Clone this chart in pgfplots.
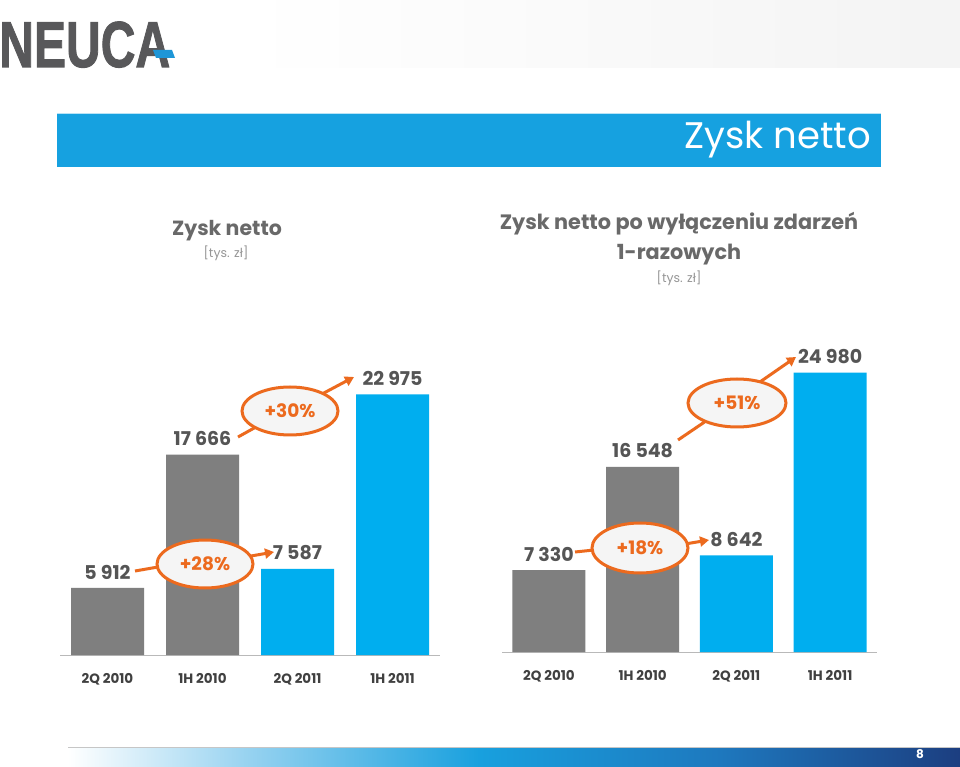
\documentclass[border=0pt]{standalone}
\usepackage{pgfplots}
\pgfplotsset{compat=1.18}
\usepackage{fontspec}
\setmainfont{Poppins}
\newfontfamily\logofont{Liberation Sans}[BoldFeatures={FakeBold=1.6}]
\usetikzlibrary{arrows.meta}
\definecolor{barGrey}{RGB}{127,127,127}
\definecolor{barBlue}{RGB}{0,174,239}
\definecolor{txtDark}{RGB}{85,85,85}
\definecolor{catDark}{RGB}{64,64,64}
\definecolor{headGrey}{RGB}{105,105,105}
\definecolor{unitGrey}{RGB}{150,150,150}
\definecolor{orangeA}{RGB}{236,106,30}
\definecolor{bannerBlue}{RGB}{22,161,224}
\definecolor{logoGrey}{RGB}{88,88,90}
\definecolor{logoBlue}{RGB}{30,150,215}
\definecolor{navy}{RGB}{28,62,128}
\definecolor{footBlue}{RGB}{24,160,222}
\definecolor{footLight}{RGB}{150,210,240}
\definecolor{footMid}{RGB}{30,120,190}
\definecolor{ellFill}{RGB}{245,245,245}
\newcommand{\fs}[1]{\fontsize{#1}{#1}\selectfont}

\pgfplotsset{barchart/.style={
  scale only axis, ybar, bar width=73pt,
  xmin=-0.5, xmax=3.5, ymin=0,
  axis x line=bottom, axis y line=none,
  axis line style={-, draw=gray!55, line width=1pt},
  xtick={0,1,2,3}, major tick length=0pt,
  xticklabel style={anchor=base, yshift=-28pt, font=\fs{13.5}\bfseries, text=catDark, inner sep=0pt},
  point meta=explicit symbolic,
  nodes near coords,
  every node near coord/.append style={anchor=center, yshift=16pt, font=\fs{19}\bfseries, text=txtDark},
  clip=false,
  anchor=south west, at={(0pt,0pt)},
}}

\begin{document}
\begin{tikzpicture}[x=1pt,y=1pt]
\useasboundingbox (0,0) rectangle (960,766);
\fill[white] (0,0) rectangle (960,766);
% top pale band
\shade[left color=white, right color=gray!9] (245,698) rectangle (960,766);
% logo
\node[anchor=base west, inner sep=0pt] at (-1,699) {\scalebox{0.74}[1]{\logofont\bfseries\fs{65}\color{logoGrey}NEUCA}};
\fill[logoBlue] (153,716) -- (172,716) -- (175,708) -- (156,708) -- cycle;
% banner
\fill[bannerBlue] (57,599) rectangle (881,653);
\draw[white!70!bannerBlue, line width=0.8pt] (57,653) -- (881,653);
\node[anchor=east, inner sep=0pt, text=white] at (871,626) {\fs{37}Zysk netto};
% headings
\node[anchor=base, inner sep=0pt, text=headGrey] at (227,530) {\fs{20.5}\bfseries Zysk netto};
\node[anchor=center, inner sep=0pt, text=unitGrey] at (226,513) {\fs{12.5}[tys. zł]};
\node[anchor=base, inner sep=0pt, text=headGrey] at (679,536) {\fs{20.8}\bfseries Zysk netto po wyłączeniu zdarzeń};
\node[anchor=base, inner sep=0pt, text=headGrey] at (679,506) {\fs{20.8}\bfseries 1-razowych};
\node[anchor=center, inner sep=0pt, text=unitGrey] at (679,488) {\fs{12.5}[tys. zł]};

% left chart
\begin{scope}[shift={(60pt,111pt)}]
\begin{axis}[barchart,
  width=380pt, height=283.5pt, ymax=25000,
  xticklabels={2Q 2010,1H 2010,2Q 2011,1H 2011}]
\addplot[fill=barGrey, draw=none, bar shift=0pt] coordinates {(0,5912) [5 912] (1,17666) [17 666]};
\addplot[fill=barBlue, draw=none, bar shift=0pt] coordinates {(2,7587) [7 587] (3,22975) [22 975]};
\end{axis}
\end{scope}

% right chart
\begin{scope}[shift={(502pt,114pt)}]
\begin{axis}[barchart,
  width=375pt, height=301.9pt, ymax=27000,
  xticklabels={2Q 2010,1H 2010,2Q 2011,1H 2011}]
\addplot[fill=barGrey, draw=none, bar shift=0pt] coordinates {(0,7330) [7 330] (1,16548) [16 548]};
\addplot[fill=barBlue, draw=none, bar shift=0pt] coordinates {(2,8642) [8 642] (3,24980) [24 980]};
\end{axis}
\end{scope}

% annotations
\tikzset{orl/.style={orangeA, line width=3pt}, ora/.style={orangeA, line width=3pt, -{Triangle[length=9pt,width=10pt]}},
  pct/.style={text=orangeA, font=\fs{18.5}\bfseries, inner sep=0pt}}
% +28%
\draw[orl] (135,195) -- (158,199);
\draw[ora] (251,210) -- (274,214);
\draw[orl, fill=ellFill] (205,202) ellipse [x radius=48, y radius=24];
\node[pct] at (205,202) {+28\%};
% +30%
\draw[orl] (238,329) -- (256,339);
\draw[ora] (322,372) -- (354,389);
\draw[orl, fill=ellFill] (290,355) ellipse [x radius=48, y radius=24];
\node[pct] at (290,355) {+30\%};
% +18%
\draw[orl] (575,214) -- (594,216);
\draw[ora] (685,222) -- (709,226);
\draw[orl, fill=ellFill] (640,218) ellipse [x radius=48, y radius=25];
\node[pct] at (640,218) {+18\%};
% +51%
\draw[orl] (678,326) -- (706,345);
\draw[ora] (757,382) -- (796,409);
\draw[orl, fill=ellFill] (737,363) ellipse [x radius=49, y radius=24];
\node[pct] at (737,363) {+51\%};

% footer
\shade[left color=white, right color=footLight] (68,0) rectangle (250,19);
\shade[left color=footLight, right color=footBlue] (250,0) rectangle (480,19);
\shade[left color=footBlue, right color=footMid] (480,0) rectangle (720,19);
\shade[left color=footMid, right color=navy] (720,0) rectangle (960,19);
\draw[gray!45, line width=0.8pt] (68,19) -- (960,19);
\node[text=white, inner sep=0pt] at (920,12) {\fs{12}\bfseries 8};
\end{tikzpicture}
\end{document}
